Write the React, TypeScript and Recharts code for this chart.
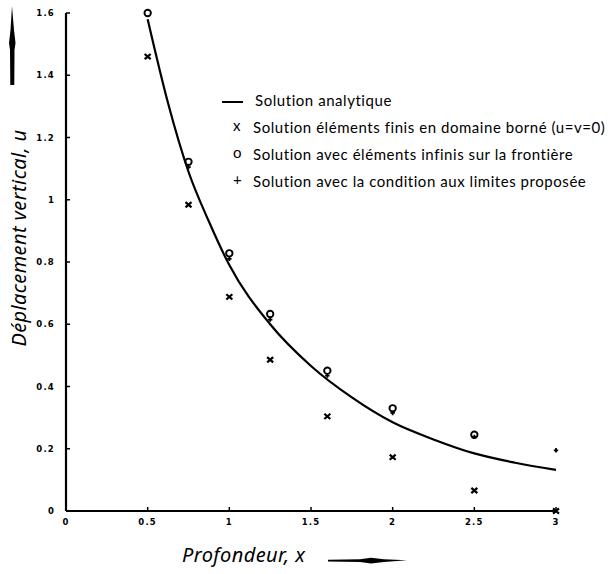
import { ComposedChart, Line, Scatter, XAxis, YAxis, Legend } from 'recharts';

// axis ticks
const xTicks = [0, 0.5, 1, 1.5, 2, 2.5, 3];
const yTicks = [0, 0.2, 0.4, 0.6, 0.8, 1, 1.2, 1.4, 1.6];

// analytical solution
const analyticX = [0.5, 0.625, 0.75, 0.875, 1, 1.25, 1.5, 1.75, 2, 2.25, 2.5, 2.75, 3];
const analyticU = [1.58, 1.31, 1.09, 0.93, 0.79, 0.6, 0.466, 0.365, 0.285, 0.23, 0.185, 0.155, 0.132];

// FEM in bounded domain (x)
const femX = [0.5, 0.75, 1, 1.25, 1.6, 2, 2.5, 3];
const femU = [1.46, 0.984, 0.688, 0.486, 0.304, 0.173, 0.066, 0];

// infinite elements on the boundary (o)
const infX = [0.5, 0.75, 1, 1.25, 1.6, 2, 2.5];
const infU = [1.6, 1.122, 0.828, 0.633, 0.451, 0.33, 0.245];

// proposed boundary condition (+)
const propX = [0.75, 1, 1.25, 1.6, 2, 2.5, 3];
const propU = [1.105, 0.81, 0.615, 0.435, 0.315, 0.238, 0.195];

const legendLabels = [
    'Solution analytique',
    'Solution éléments finis en domaine borné (u=v=0)',
    'Solution avec éléments infinis sur la frontière',
    'Solution avec la condition aux limites proposée',
];
const legendGlyphs = ['', 'x', 'o', '+'];

const toPoints = (xs: number[], us: number[]) => xs.map((x, i) => ({ x, u: us[i] }));

const fmt = (v: number) => String(v);

// eslint-disable-next-line @typescript-eslint/no-explicit-any
const CrossMark = (props: any) => {
    const { cx, cy } = props;
    return (
        <path
            d={`M${cx - 3},${cy - 2.6}L${cx + 3},${cy + 2.6}M${cx + 3},${cy - 2.6}L${cx - 3},${cy + 2.6}`}
            stroke="#000"
            strokeWidth={2.2}
        />
    );
};

// eslint-disable-next-line @typescript-eslint/no-explicit-any
const CircleMark = (props: any) => {
    const { cx, cy } = props;
    return <circle cx={cx} cy={cy} r={3.2} fill="none" stroke="#000" strokeWidth={1.9} />;
};

// eslint-disable-next-line @typescript-eslint/no-explicit-any
const PlusMark = (props: any) => {
    const { cx, cy } = props;
    return (
        <path
            d={`M${cx - 2.2},${cy}L${cx + 2.2},${cy}M${cx},${cy - 2.2}L${cx},${cy + 2.2}`}
            stroke="#000"
            strokeWidth={1.8}
        />
    );
};

const tickStyle = {
    fontFamily: 'DejaVu Sans',
    fontSize: 8.5,
    fontWeight: 700,
    fill: '#000',
    letterSpacing: 1.2,
};

const titleStyle = {
    position: 'absolute' as const,
    fontFamily: 'Noto Sans',
    fontStyle: 'italic',
    fontSize: 20,
    letterSpacing: 0.4,
    whiteSpace: 'nowrap' as const,
    color: '#000',
};

const LegendBox = () => (
    <div style={{ fontFamily: 'Lato', fontSize: 15, letterSpacing: 0.55, color: '#000' }}>
        {legendLabels.map((label, i) => (
            <div key={label} style={{ display: 'flex', alignItems: 'center', height: 27 }}>
                <div style={{ width: i === 0 ? 33 : 31, position: 'relative', height: 27 }}>
                    {i === 0 ? (
                        <div style={{ position: 'absolute', left: 0, top: 15, width: 21, height: 2, background: '#000' }} />
                    ) : (
                        <span style={{ position: 'absolute', left: 11, top: 3 }}>{legendGlyphs[i]}</span>
                    )}
                </div>
                <span style={{ whiteSpace: 'nowrap' }}>{label}</span>
            </div>
        ))}
    </div>
);

export default function App() {
    return (
        <div style={{ position: 'absolute', left: 0, top: 0, width: 613, height: 574, background: '#fff' }}>
            <ComposedChart width={613} height={574} margin={{ top: 13, right: 57, bottom: 0, left: 0 }}>
                <XAxis
                    dataKey="x"
                    type="number"
                    domain={[0, 3]}
                    ticks={xTicks}
                    tickFormatter={fmt}
                    height={63}
                    tick={tickStyle}
                    tickSize={-4}
                    tickMargin={12}
                    axisLine={{ stroke: '#000', strokeWidth: 2.2 }}
                    tickLine={{ stroke: '#000', strokeWidth: 1.5 }}
                />
                <YAxis
                    dataKey="u"
                    type="number"
                    domain={[0, 1.6]}
                    ticks={yTicks}
                    tickFormatter={fmt}
                    width={66}
                    tick={tickStyle}
                    tickSize={-4}
                    tickMargin={15}
                    axisLine={{ stroke: '#000', strokeWidth: 2.2 }}
                    tickLine={{ stroke: '#000', strokeWidth: 1.5 }}
                />
                <Legend
                    layout="vertical"
                    align="center"
                    verticalAlign="middle"
                    content={() => <LegendBox />}
                    wrapperStyle={{ left: 222, top: 86, width: 391 }}
                />
                <Line
                    data={toPoints(analyticX, analyticU)}
                    dataKey="u"
                    type="monotone"
                    stroke="#000"
                    strokeWidth={2.2}
                    dot={false}
                    isAnimationActive={false}
                />
                <Scatter data={toPoints(femX, femU)} dataKey="u" shape={CrossMark} isAnimationActive={false} />
                <Scatter data={toPoints(infX, infU)} dataKey="u" shape={CircleMark} isAnimationActive={false} />
                <Scatter data={toPoints(propX, propU)} dataKey="u" shape={PlusMark} isAnimationActive={false} />
            </ComposedChart>

            {/* axis titles with their arrows */}
            <div style={{ ...titleStyle, left: 18, top: 238, transform: 'translate(-50%, -50%) rotate(-90deg)' }}>
                Déplacement vertical, u
            </div>
            <div style={{ ...titleStyle, left: 182, top: 541 }}>Profondeur, x</div>
            <svg width={613} height={574} style={{ position: 'absolute', left: 0, top: 0, pointerEvents: 'none' }}>
                <polygon points="12,6 14,30 15.5,43 14.5,50 14.3,85 10.3,85 10,50 9,43 10.5,30" fill="#000" />
                <polygon points="328,559.8 360,559.3 371,557.8 384,559.3 407,560.3 384,561.9 371,563.4 360,562 328,561.6" fill="#000" />
            </svg>
        </div>
    );
}
